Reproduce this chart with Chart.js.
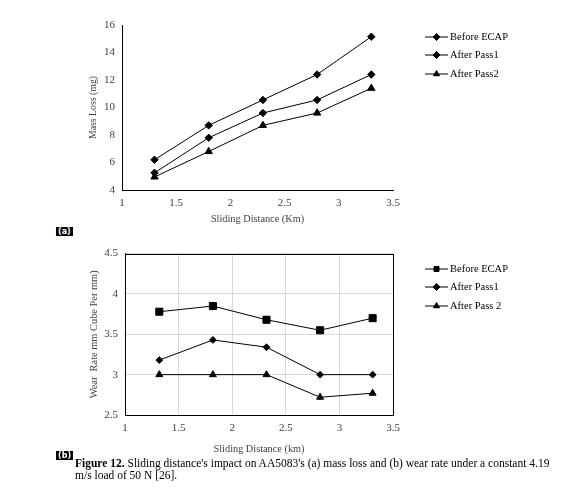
<!DOCTYPE html>
<html>
<head>
<meta charset="utf-8">
<script src="https://cdn.jsdelivr.net/npm/chart.js@4"></script>
<style>
  html, body { margin: 0; padding: 0; background: #fff; }
  body { width: 585px; height: 496px; position: relative; overflow: hidden; font-family: "Liberation Serif", serif; }
  canvas { position: absolute; left: 0; }
  #chartA { top: 0; }
  #chartB { top: 240px; }
  .tag { position: absolute; background: #000; color: #fff; font: bold 8px "DejaVu Sans", sans-serif; padding: 0 2px; line-height: 9px; }
  #caption { position: absolute; left: 75px; top: 457px; font-size: 11.5px; line-height: 12px; color: #000; white-space: nowrap; }
</style>
</head>
<body>
<canvas id="chartA" width="585" height="235"></canvas>
<canvas id="chartB" width="585" height="220"></canvas>
<div class="tag" style="left:56px;top:227px;">(a)</div>
<div class="tag" style="left:56px;top:451px;">(b)</div>
<div id="caption"><b>Figure 12.</b> Sliding distance's impact on AA5083's (a) mass loss and (b) wear rate under a constant 4.19<br>m/s load of 50 N [26].</div>
<script>
// (a) mass loss vs sliding distance
const distanceA = [1.3, 1.8, 2.3, 2.8, 3.3];
const massBefore = [6.2, 8.7, 10.55, 12.4, 15.15];
const massPass1 = [5.25, 7.8, 9.6, 10.55, 12.4];
const massPass2 = [4.95, 6.8, 8.7, 9.6, 11.4];

// (b) wear rate vs sliding distance
const distanceB = [1.32, 1.82, 2.32, 2.82, 3.31];
const wearBefore = [3.78, 3.85, 3.68, 3.55, 3.7];
const wearPass1 = [3.18, 3.43, 3.34, 3.0, 3.0];
const wearPass2 = [3.0, 3.0, 3.0, 2.72, 2.77];

const xTicks = [1, 1.5, 2, 2.5, 3, 3.5];
const yTicksA = [4, 6, 8, 10, 12, 14, 16];
const yTicksB = [2.5, 3, 3.5, 4, 4.5];

const labelsA = ["Before ECAP", "After Pass1", "After Pass2"];
const labelsB = ["Before ECAP", "After Pass1", "After Pass 2"];

const serif = "'Liberation Serif', 'Times New Roman', serif";
const textGrey = "#404040";

const toPoints = (xs, ys) => xs.map((x, i) => ({ x, y: ys[i] }));
const plain = (v) => String(v);

function series(label, xs, ys, pointStyle, radius) {
  return {
    label,
    data: toPoints(xs, ys),
    borderColor: "#000",
    backgroundColor: "#000",
    borderWidth: 1,
    pointStyle,
    pointRadius: radius,
    pointBorderWidth: 1,
    pointBackgroundColor: "#000",
    pointBorderColor: "#000",
    tension: 0,
  };
}

// legend with a short line through the marker, like the Excel one
const sideLegend = {
  id: "sideLegend",
  afterDraw(chart, args, opts) {
    const ctx = chart.ctx;
    ctx.save();
    chart.data.datasets.forEach((ds, i) => {
      const y = opts.rows[i];
      ctx.strokeStyle = "#000";
      ctx.lineWidth = 1;
      ctx.beginPath();
      ctx.moveTo(opts.x, y);
      ctx.lineTo(opts.x + 23, y);
      ctx.stroke();
      ctx.fillStyle = "#000";
      Chart.helpers.drawPoint(ctx, {
        pointStyle: ds.pointStyle,
        radius: Math.min(ds.pointRadius, 3.5),
        rotation: 0,
        borderWidth: 1,
      }, opts.x + 11.5, y);
      ctx.font = "10.5px " + serif;
      ctx.textBaseline = "middle";
      ctx.textAlign = "left";
      ctx.fillText(ds.label, opts.x + 25, y + 0.5);
    });
    ctx.restore();
  },
};

// black box around the plot area of (b)
const frame = {
  id: "frame",
  afterDatasetsDraw(chart, args, opts) {
    if (!opts.show) return;
    const { left, top, right, bottom } = chart.chartArea;
    const ctx = chart.ctx;
    ctx.save();
    ctx.strokeStyle = "#000";
    ctx.lineWidth = 1;
    ctx.strokeRect(Math.round(left) + 0.5, Math.round(top) + 0.5, Math.round(right - left), Math.round(bottom - top));
    ctx.restore();
  },
};

function buildConfig({ datasets, yMin, yMax, yTicks, yTitle, yTitleSize, xTitle, grid, padding, yWidth, xHeight, legendRows, showFrame }) {
  return {
    type: "line",
    data: { datasets },
    options: {
      responsive: false,
      animation: false,
      layout: { padding },
      scales: {
        x: {
          type: "linear",
          min: xTicks[0],
          max: xTicks[xTicks.length - 1],
          afterBuildTicks: (scale) => { scale.ticks = xTicks.map((v) => ({ value: v })); },
          afterFit: (scale) => { scale.height = xHeight; },
          grid: { display: grid, color: "#d9d9d9", drawTicks: false },
          border: { display: true, color: "#000", width: 1 },
          ticks: { padding: 7, color: textGrey, font: { family: serif, size: 11 }, maxRotation: 0, callback: plain },
          title: { display: true, text: xTitle, color: textGrey, padding: 0, font: { family: serif, size: 10.3 } },
        },
        y: {
          type: "linear",
          min: yMin,
          max: yMax,
          afterBuildTicks: (scale) => { scale.ticks = yTicks.map((v) => ({ value: v })); },
          afterFit: (scale) => { scale.width = yWidth; },
          grid: { display: grid, color: "#d9d9d9", drawTicks: false },
          border: { display: true, color: "#000", width: 1 },
          ticks: { padding: 7, color: textGrey, font: { family: serif, size: 11 }, callback: plain },
          title: { display: true, text: yTitle, color: textGrey, padding: 0, font: { family: serif, size: yTitleSize } },
        },
      },
      plugins: {
        legend: { display: false },
        tooltip: { enabled: false },
        sideLegend: { x: 425, rows: legendRows },
        frame: { show: showFrame },
      },
    },
    plugins: [sideLegend, frame],
  };
}

new Chart(document.getElementById("chartA"), buildConfig({
  datasets: [
    series(labelsA[0], distanceA, massBefore, "rectRot", 3.7),
    series(labelsA[1], distanceA, massPass1, "rectRot", 3.7),
    series(labelsA[2], distanceA, massPass2, "triangle", 4.2),
  ],
  yMin: 4, yMax: 16, yTicks: yTicksA,
  yTitle: "Mass Loss (mg)",
  yTitleSize: 9.8,
  xTitle: "Sliding Distance (Km)",
  grid: false,
  padding: { left: 88, right: 192, top: 25, bottom: 10 },
  yWidth: 34,
  xHeight: 35,
  legendRows: [37, 55, 74],
  showFrame: false,
}));

new Chart(document.getElementById("chartB"), buildConfig({
  datasets: [
    series(labelsB[0], distanceB, wearBefore, "rect", 5),
    series(labelsB[1], distanceB, wearPass1, "rectRot", 3.4),
    series(labelsB[2], distanceB, wearPass2, "triangle", 4),
  ],
  yMin: 2.5, yMax: 4.5, yTicks: yTicksB,
  yTitle: "Wear  Rate mm Cube Per mm)",
  yTitleSize: 10.4,
  xTitle: "Sliding Distance (km)",
  grid: true,
  padding: { left: 88, right: 192, top: 10, bottom: 5 },
  yWidth: 37,
  xHeight: 40,
  legendRows: [29, 47, 66],
  showFrame: true,
}));
</script>
</body>
</html>
